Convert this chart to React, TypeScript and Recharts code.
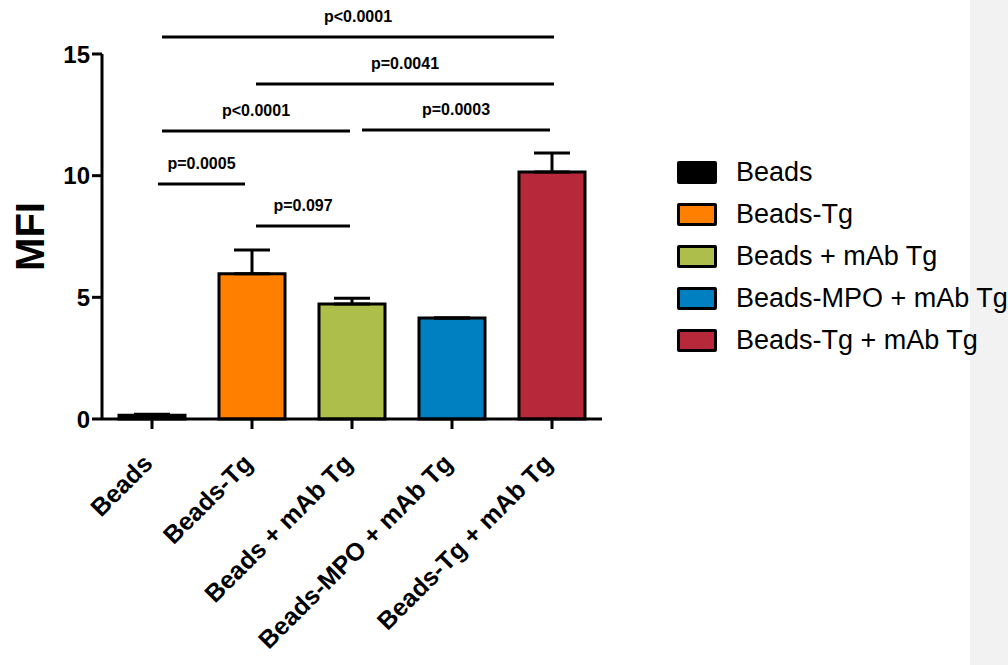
import { BarChart, Bar, XAxis, YAxis, Cell, ErrorBar, ReferenceLine, Legend } from 'recharts';

const groups = ['Beads', 'Beads-Tg', 'Beads + mAb Tg', 'Beads-MPO + mAb Tg', 'Beads-Tg + mAb Tg'];
const mfi = [0.15, 5.97, 4.73, 4.15, 10.15];
const sem = [0.05, 0.98, 0.23, 0, 0.78];
const barColors = ['#000000', '#ff8000', '#adbf4a', '#0080c0', '#b8283b'];
const yTicks = [0, 5, 10, 15];

// significance brackets: start/end position on the group index scale, height in MFI, p value
const bracketFrom = [0.1, 1.04, 0.1, 2.1, 0.06, 1.04];
const bracketTo = [4.02, 4.02, 1.98, 3.98, 0.93, 1.98];
const bracketY = [15.7, 13.77, 11.84, 11.88, 9.66, 7.93];
const bracketP = ['p<0.0001', 'p=0.0041', 'p<0.0001', 'p=0.0003', 'p=0.0005', 'p=0.097'];

const data = groups.map((g, i) => ({ group: g, pos: i, mfi: mfi[i], err: [0, sem[i]] }));

const FONT = "Arial, 'Liberation Sans', sans-serif";

const XTick = ({ x, y, payload }: any) => (
  <g transform={`translate(${x},${y})`}>
    <text
      x={2}
      y={34}
      textAnchor="end"
      transform="rotate(-45 2 34)"
      fontFamily={FONT}
      fontWeight="bold"
      fontSize={25}
      fill="#000"
    >
      {payload.value}
    </text>
  </g>
);

const GroupLegend = () => (
  <div style={{ fontFamily: FONT }}>
    {groups.map((g, i) => (
      <div key={g} style={{ display: 'flex', alignItems: 'center', height: 42 }}>
        <span
          style={{
            width: 34,
            height: 17,
            background: barColors[i],
            border: '3px solid #000',
            borderRadius: 2,
            marginRight: 19,
            flexShrink: 0,
          }}
        />
        <span style={{ fontSize: 27, color: '#000', whiteSpace: 'nowrap' }}>{g}</span>
      </div>
    ))}
  </div>
);

export default function App() {
  return (
    <div style={{ position: 'absolute', left: 0, top: 0, width: 1008, height: 665, background: '#fff', overflow: 'hidden' }}>
      <div style={{ position: 'absolute', left: 970, top: 0, width: 38, height: 665, background: '#f2f2f2' }} />
      <div style={{ position: 'absolute', left: 0, top: 0 }}>
        <BarChart
          width={1008}
          height={665}
          data={data}
          margin={{ top: 54, right: 406, left: 10, bottom: 216 }}
          barCategoryGap="17%"
        >
          <XAxis
            dataKey="group"
            interval={0}
            height={30}
            tick={<XTick />}
            tickSize={10}
            axisLine={{ stroke: '#000', strokeWidth: 3 }}
            tickLine={{ stroke: '#000', strokeWidth: 3 }}
          />
          <XAxis
            xAxisId="pos"
            dataKey="pos"
            type="number"
            scale="linear"
            domain={[-0.5, 4.5]}
            allowDataOverflow
            padding={{ left: 0, right: 0 }}
            hide
          />
          <YAxis
            width={92}
            domain={[0, 15]}
            ticks={yTicks}
            tickSize={10}
            axisLine={{ stroke: '#000', strokeWidth: 3 }}
            tickLine={{ stroke: '#000', strokeWidth: 3 }}
            tick={{ fill: '#000', fontSize: 24, fontWeight: 'bold', fontFamily: FONT }}
            label={{
              value: 'MFI',
              angle: -90,
              position: 'insideLeft',
              offset: 20,
              style: { textAnchor: 'middle' },
              fill: '#000',
              fontSize: 40,
              fontWeight: 'bold',
              fontFamily: FONT,
            }}
          />
          <Legend
            layout="vertical"
            align="center"
            verticalAlign="middle"
            content={<GroupLegend />}
            wrapperStyle={{ left: 677, top: 151, width: 330 }}
          />
          <Bar dataKey="mfi" stroke="#000" strokeWidth={3} isAnimationActive={false}>
            {data.map((d, i) => (
              <Cell key={d.group} fill={barColors[i]} />
            ))}
            <ErrorBar dataKey="err" width={18} stroke="#000" strokeWidth={3} direction="y" />
          </Bar>
          {bracketP.map((p, i) => (
            <ReferenceLine
              key={i}
              xAxisId="pos"
              ifOverflow="visible"
              stroke="#000"
              strokeWidth={3}
              segment={[
                { x: bracketFrom[i], y: bracketY[i] },
                { x: bracketTo[i], y: bracketY[i] },
              ]}
              label={{
                value: p,
                position: 'top',
                offset: 15,
                fill: '#000',
                fontSize: 16,
                fontWeight: 'bold',
                fontFamily: FONT,
              }}
            />
          ))}
        </BarChart>
      </div>
    </div>
  );
}
